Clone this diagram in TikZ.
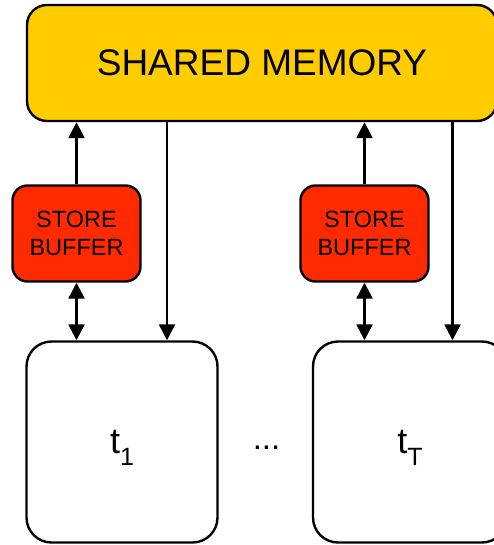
\documentclass[tikz,border=0pt]{standalone}
\usepackage{fontspec}
\setmainfont{Liberation Sans}
\usetikzlibrary{arrows.meta}
\definecolor{memyellow}{HTML}{FFCC00}
\definecolor{bufred}{HTML}{FF2A00}

\begin{document}
\begin{tikzpicture}[x=1pt, y=-1pt,
  box/.style={draw=black, line width=2.4pt, rounded corners=#1, inner sep=0pt},
  arr/.style={line width=2.4pt, -{Triangle[width=16pt,length=16pt]}},
  darr/.style={line width=2.4pt, {Triangle[width=16pt,length=16pt]}-{Triangle[width=16pt,length=16pt]}},
  bufbox/.style={box=15pt, fill=bufred, minimum width=128pt, minimum height=96pt,
    align=center, font=\fontsize{23.5}{27.5}\selectfont},
  threadbox/.style={box=25pt, fill=white, minimum height=201pt, text depth=0pt,
    font=\fontsize{36}{40}\selectfont}
]
\useasboundingbox (0,0) rectangle (494,545);

% shared memory
\node[box=20pt, fill=memyellow, minimum width=470pt, minimum height=116pt,
  font=\fontsize{37}{44}\selectfont] (mem) at (262,63) {SHARED MEMORY};

% store buffers
\node[bufbox] (sb1) at (76.5,233.5) {STORE\\BUFFER};
\node[bufbox] (sb2) at (364.5,233.5) {STORE\\BUFFER};

% threads
\node[threadbox, minimum width=191pt] (th1) at (122,442)
  {t\raisebox{-12pt}{\fontsize{25}{25}\selectfont 1}};
\node[threadbox, minimum width=194pt] (th2) at (410,442)
  {t\raisebox{-12pt}{\fontsize{25}{25}\selectfont T}};
\node[anchor=base, inner sep=0pt, font=\fontsize{33}{36}\selectfont] (dots) at (266.5,449) {...};

% columns of the direct read paths
\coordinate (c1) at (167,0);
\coordinate (c2) at (452.5,0);

% connectors
\draw[arr] (sb1.north) -- (sb1.north |- mem.south);
\draw[arr] (sb2.north) -- (sb2.north |- mem.south);
\draw[arr] (mem.south -| c1) -- (th1.north -| c1);
\draw[arr] (mem.south -| c2) -- (th2.north -| c2);
\draw[darr] (sb1.south) -- (sb1.south |- th1.north);
\draw[darr] (sb2.south) -- (sb2.south |- th2.north);
\end{tikzpicture}
\end{document}
